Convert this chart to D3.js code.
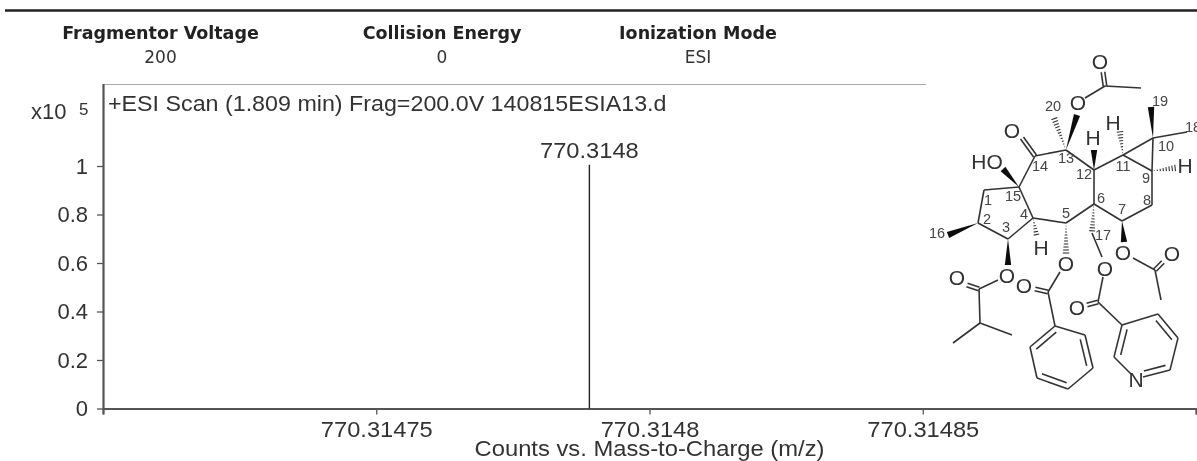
<!DOCTYPE html>
<html>
<head>
<meta charset="utf-8">
<script src="https://cdn.jsdelivr.net/npm/d3@7"></script>
<style>
html, body { margin: 0; padding: 0; background: #fff; overflow: hidden; }
svg { display: block; }
text { font-family: "Liberation Sans", Arial, sans-serif; fill: #333; }
.head { font-family: "DejaVu Sans", Verdana, sans-serif; }
</style>
</head>
<body>
<div id="chart-container"></div>
<script>
// spectrum data
const peakMz = [770.314789];
const peakCounts = [1.005];
const peakLabels = ["770.3148"];
const xTicks = [770.3147, 770.31475, 770.3148, 770.31485, 770.3149];
const xTickLabels = ["", "770.31475", "770.3148", "770.31485", ""];
const yTicks = [0, 0.2, 0.4, 0.6, 0.8, 1];
const yTickLabels = ["0", "0.2", "0.4", "0.6", "0.8", "1"];

// acquisition parameters above the plot
const paramNames = ["Fragmentor Voltage", "Collision Energy", "Ionization Mode"];
const paramValues = ["200", "0", "ESI"];

const scanTitle = "+ESI Scan (1.809 min) Frag=200.0V 140815ESIA13.d";
const xTitle = "Counts vs. Mass-to-Charge (m/z)";

// structure inset in page pixels
const molPoints = {
    c1: [984, 190], c2: [978, 223], c3: [1008, 239], c4: [1033, 218], c5: [1066, 223],
    c6: [1094, 204], c7: [1122, 221], c8: [1152, 205], c9: [1152, 171], c10: [1153, 138],
    c11: [1123, 155], c12: [1094, 170], c13: [1066, 150], c14: [1035, 156], c15: [1019, 187],
    c16: [948, 235], c17: [1092, 233], c18: [1187, 132], c19: [1151, 107], c20: [1054, 118],
    hO: [1003, 169], h4: [1037, 237], h9: [1175, 168], h11: [1120, 132], h12: [1094, 150],
    o14: [1022, 138], o13: [1077, 115], o13b: [1085, 98], ac13: [1105, 86], ac13o: [1103, 72], ac13m: [1141, 88],
    o3: [1008, 265], o3b: [998, 280], ib: [979, 289], ibO: [967, 285], ibCh: [980, 323], ibA: [953, 343], ibB: [1012, 335],
    o5: [1066, 253], o5b: [1060, 272], bz: [1048, 292], bzO: [1035, 289],
    ph1: [1055, 326], ph2: [1085, 335], ph3: [1093, 368], ph4: [1068, 389], ph5: [1037, 378], ph6: [1030, 347],
    o17: [1102, 257], o17b: [1103, 277], nic: [1098, 302], nicO: [1087, 305],
    py1: [1122, 325], py2: [1158, 314], py3: [1178, 338], py4: [1170, 370], pyN: [1143, 377], pyN2: [1131, 374], py6: [1114, 357],
    o7: [1124, 242], o7b: [1133, 258], ac7: [1155, 270], ac7o: [1163, 262], ac7m: [1161, 300]
};
const molBonds = [
    ["c1", "c2"], ["c2", "c3"], ["c3", "c4"], ["c4", "c15"], ["c15", "c1"], ["c4", "c5"], ["c5", "c6"],
    ["c6", "c7"], ["c7", "c8"], ["c8", "c9"], ["c9", "c10"], ["c10", "c11"], ["c11", "c9"], ["c11", "c12"],
    ["c12", "c6"], ["c12", "c13"], ["c13", "c14"], ["c14", "c15"], ["c10", "c18"],
    ["o13b", "ac13"], ["ac13", "ac13m"], ["o3b", "ib"], ["ib", "ibCh"], ["ibCh", "ibA"], ["ibCh", "ibB"],
    ["o5b", "bz"], ["bz", "ph1"], ["ph1", "ph2"], ["ph2", "ph3"], ["ph3", "ph4"], ["ph4", "ph5"], ["ph5", "ph6"], ["ph6", "ph1"],
    ["c17", "o17"], ["o17b", "nic"], ["nic", "py1"], ["py1", "py2"], ["py2", "py3"], ["py3", "py4"], ["py4", "pyN"], ["pyN2", "py6"], ["py6", "py1"],
    ["o7b", "ac7"], ["ac7", "ac7m"]
];
const molDoubles = [["c14", "o14"], ["ac13", "ac13o"], ["ib", "ibO"], ["bz", "bzO"], ["nic", "nicO"], ["ac7", "ac7o"]];
const molRingInner = [["ph1", "ph6"], ["ph2", "ph3"], ["ph4", "ph5"], ["py1", "py6"], ["py2", "py3"], ["py4", "pyN"]];
const molWedges = [["c15", "hO"], ["c13", "o13"], ["c12", "h12"], ["c10", "c19"], ["c2", "c16"], ["c3", "o3"], ["c7", "o7"]];
const molHashes = [["c13", "c20"], ["c11", "h11"], ["c9", "h9"], ["c4", "h4"], ["c5", "o5"], ["c6", "c17"]];
const molAtoms = [
    ["O", 1012, 130], ["O", 1078, 102], ["O", 1100, 61], ["HO", 987, 161], ["H", 1093, 137], ["H", 1113, 122], ["H", 1185, 165],
    ["H", 1041, 247], ["O", 1007, 275], ["O", 957, 277], ["O", 1066, 263], ["O", 1024, 285], ["O", 1105, 268], ["O", 1077, 307],
    ["O", 1123, 252], ["O", 1172, 253], ["N", 1136, 379]
];
const molNumbers = [
    ["1", 988, 200], ["2", 987, 219], ["3", 1006, 227], ["4", 1024, 214], ["5", 1066, 213], ["6", 1101, 198], ["7", 1122, 209],
    ["8", 1147, 200], ["9", 1146, 178], ["10", 1166, 146], ["11", 1123, 166], ["12", 1084, 174], ["13", 1066, 158], ["14", 1040, 166],
    ["15", 1013, 196], ["16", 937, 233], ["17", 1103, 235], ["18", 1193, 127], ["19", 1160, 101], ["20", 1053, 106]
];

const width = 1197;
const height = 461;
const margin = { top: 84, right: 1, bottom: 52.5, left: 103 };

const x = d3.scaleLinear()
    .domain([770.3147, 770.3149])
    .range([margin.left, width - margin.right]);

const y = d3.scaleLinear()
    .domain([0, 1])
    .range([height - margin.bottom, 166]);

const svgRoot = d3.select("#chart-container").append("svg")
    .attr("width", width)
    .attr("height", height)
    .attr("viewBox", `0 0 ${width} ${height}`);

// the source is a soft scan, so everything gets a slight blur
svgRoot.append("filter").attr("id", "soft")
    .attr("filterUnits", "userSpaceOnUse")
    .attr("x", 0).attr("y", 0).attr("width", width).attr("height", height)
    .append("feGaussianBlur").attr("stdDeviation", 0.45);

const svg = svgRoot.append("g").attr("filter", "url(#soft)");

// Arial in the source runs a bit wider than Liberation at the same height
const widen = (sel, k) => sel.each(function() {
    this.setAttribute("textLength", this.getComputedTextLength() * k);
    this.setAttribute("lengthAdjust", "spacingAndGlyphs");
});

// rule across the top
svg.append("line")
    .attr("x1", 5).attr("x2", width)
    .attr("y1", 10.5).attr("y2", 10.5)
    .attr("stroke", "#222").attr("stroke-width", 2.5);

// parameter header
const paramX = d3.scaleOrdinal().domain(paramNames).range([160.5, 442, 698]);
svg.append("g").selectAll("text")
    .data(paramNames)
    .join("text")
    .attr("class", "head")
    .attr("x", d => paramX(d))
    .attr("y", 39)
    .attr("text-anchor", "middle")
    .attr("font-size", 17.5)
    .attr("font-weight", "bold")
    .style("fill", "#222")
    .text(d => d);
svg.append("g").selectAll("text")
    .data(paramValues)
    .join("text")
    .attr("class", "head")
    .attr("x", (d, i) => paramX(paramNames[i]))
    .attr("y", 63)
    .attr("text-anchor", "middle")
    .attr("font-size", 17)
    .text(d => d);

// frame top
svg.append("line")
    .attr("x1", margin.left).attr("x2", 926)
    .attr("y1", margin.top + 0.5).attr("y2", margin.top + 0.5)
    .attr("stroke", "#aaa").attr("stroke-width", 1.2);

const yAxis = svg.append("g")
    .attr("transform", `translate(${margin.left},0)`)
    .call(d3.axisLeft(y).tickValues(yTicks).tickSize(6).tickPadding(9)
        .tickFormat((d, i) => yTickLabels[i]));
yAxis.select(".domain").attr("d", `M0.5,${margin.top}V${y(0)}`);

const xAxis = svg.append("g")
    .attr("transform", `translate(0,${y(0)})`)
    .call(d3.axisBottom(x).tickValues(xTicks).tickSize(6).tickPadding(7)
        .tickFormat((d, i) => xTickLabels[i]));

[yAxis, xAxis].forEach(g => {
    g.select(".domain").attr("stroke", "#555").attr("stroke-width", 2.2);
    g.selectAll(".tick line").attr("stroke", "#555").attr("stroke-width", 1.3);
    g.selectAll("text")
        .attr("font-family", "Liberation Sans, Arial, sans-serif")
        .attr("font-size", 22)
        .style("fill", "#333");
});
widen(xAxis.selectAll("text").filter(d => xTickLabels[xTicks.indexOf(d)] !== ""), 1.076);

// exponent
svg.append("text").attr("x", 31).attr("y", 119).attr("font-size", 22).text("x10");
svg.append("text").attr("x", 79).attr("y", 115).attr("font-size", 17).text("5");

svg.append("text").attr("x", 108).attr("y", 111).attr("font-size", 22).text(scanTitle)
    .call(widen, 1.057);

svg.append("text")
    .attr("x", 649.5).attr("y", 456)
    .attr("text-anchor", "middle")
    .attr("font-size", 22)
    .text(xTitle)
    .call(widen, 1.08);

// peak
svg.append("g").selectAll("line")
    .data(peakMz)
    .join("line")
    .attr("x1", d => x(d)).attr("x2", d => x(d))
    .attr("y1", y(0))
    .attr("y2", (d, i) => y(peakCounts[i]))
    .attr("stroke", "#222").attr("stroke-width", 1.4);
svg.append("g").selectAll("text")
    .data(peakMz)
    .join("text")
    .attr("x", d => x(d))
    .attr("y", (d, i) => y(peakCounts[i]) - 7)
    .attr("text-anchor", "middle")
    .attr("font-size", 22)
    .text((d, i) => peakLabels[i])
    .call(widen, 1.076);

// structure
const mol = svg.append("g").attr("stroke", "#333").attr("stroke-width", 1.6).attr("fill", "none");
const pt = k => molPoints[k];
const segment = (a, b) => mol.append("line")
    .attr("x1", a[0]).attr("y1", a[1]).attr("x2", b[0]).attr("y2", b[1]);

molBonds.forEach(([a, b]) => segment(pt(a), pt(b)));

molDoubles.forEach(([a, b]) => {
    const [x1, y1] = pt(a), [x2, y2] = pt(b);
    const len = Math.hypot(x2 - x1, y2 - y1);
    const nx = -(y2 - y1) / len * 1.8, ny = (x2 - x1) / len * 1.8;
    segment([x1 + nx, y1 + ny], [x2 + nx, y2 + ny]);
    segment([x1 - nx, y1 - ny], [x2 - nx, y2 - ny]);
});

// inner lines of the two aromatic rings
const phRing = ["ph1", "ph2", "ph3", "ph4", "ph5", "ph6"].map(pt);
const pyRing = ["py1", "py2", "py3", "py4", "pyN", "py6"].map(pt);
molRingInner.forEach(([a, b]) => {
    const ring = a.startsWith("ph") ? phRing : pyRing;
    const [cx, cy] = [d3.mean(ring, d => d[0]), d3.mean(ring, d => d[1])];
    const inner = p => [p[0] + (cx - p[0]) * 0.2, p[1] + (cy - p[1]) * 0.2];
    segment(inner(pt(a)), inner(pt(b)));
});

molWedges.forEach(([a, b]) => {
    const [x1, y1] = pt(a), [x2, y2] = pt(b);
    const len = Math.hypot(x2 - x1, y2 - y1);
    const nx = -(y2 - y1) / len * 3.2, ny = (x2 - x1) / len * 3.2;
    mol.append("path")
        .attr("d", d3.line()([[x1, y1], [x2 + nx, y2 + ny], [x2 - nx, y2 - ny]]) + "Z")
        .attr("fill", "#111").attr("stroke", "none");
});

molHashes.forEach(([a, b]) => {
    const [x1, y1] = pt(a), [x2, y2] = pt(b);
    const len = Math.hypot(x2 - x1, y2 - y1);
    const ux = (x2 - x1) / len, uy = (y2 - y1) / len;
    d3.range(0.1, 1.01, 3 / len).forEach(t => {
        const w = 3.2 * t;
        const px = x1 + (x2 - x1) * t, py = y1 + (y2 - y1) * t;
        segment([px - uy * w, py + ux * w], [px + uy * w, py - ux * w]).attr("stroke-width", 1.1);
    });
});

svg.append("g").selectAll("text")
    .data(molAtoms)
    .join("text")
    .attr("x", d => d[1]).attr("y", d => d[2])
    .attr("dy", "0.36em")
    .attr("text-anchor", "middle")
    .attr("font-size", 21)
    .text(d => d[0]);

svg.append("g").selectAll("text")
    .data(molNumbers)
    .join("text")
    .attr("x", d => d[1]).attr("y", d => d[2])
    .attr("dy", "0.36em")
    .attr("text-anchor", "middle")
    .attr("font-size", 14.5)
    .style("fill", "#444")
    .text(d => d[0]);
</script>
</body>
</html>
